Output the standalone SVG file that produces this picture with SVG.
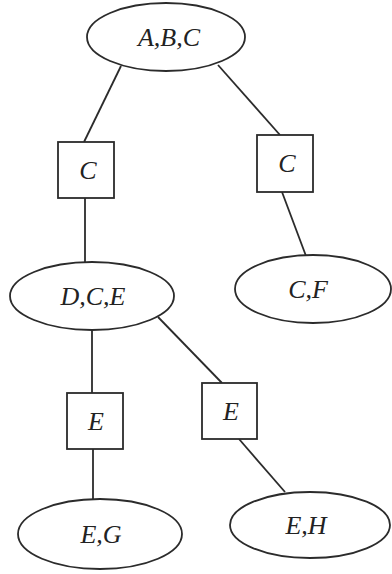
<svg xmlns="http://www.w3.org/2000/svg" width="392" height="574" viewBox="0 0 392 574">
  <style>
    .shape { fill: #ffffff; stroke: #2b2b2b; stroke-width: 1.8; }
    .edge { fill: none; stroke: #2b2b2b; stroke-width: 1.8; }
    .label { font-family: "Liberation Serif", "Times New Roman", serif; font-style: italic; font-size: 26px; fill: #222222; text-anchor: middle; }
  </style>
  <rect width="392" height="574" fill="#ffffff"/>

  <!-- connectors between cliques and separators -->
  <g id="connectors">
    <line class="edge" x1="121" y1="66" x2="84" y2="142"/>
    <line class="edge" x1="218" y1="65" x2="280" y2="135"/>
    <line class="edge" x1="85" y1="198" x2="85" y2="263"/>
    <line class="edge" x1="282" y1="192" x2="306" y2="256"/>
    <line class="edge" x1="92" y1="329" x2="92" y2="393"/>
    <line class="edge" x1="158" y1="317" x2="222" y2="383"/>
    <line class="edge" x1="93" y1="449" x2="93" y2="500"/>
    <line class="edge" x1="239" y1="439" x2="285" y2="492"/>
  </g>

  <!-- cliques (ellipses) and separators (boxes) -->
  <g id="node-abc">
    <ellipse class="shape" cx="166" cy="37" rx="79" ry="34"/>
    <text class="label" x="169" y="46">A,B,C</text>
  </g>
  <g id="sep-c-left">
    <rect class="shape" x="58" y="142" width="56" height="56"/>
    <text class="label" x="88" y="179">C</text>
  </g>
  <g id="sep-c-right">
    <rect class="shape" x="257" y="135" width="56" height="57"/>
    <text class="label" x="287" y="172">C</text>
  </g>
  <g id="node-dce">
    <ellipse class="shape" cx="92" cy="296" rx="82" ry="34"/>
    <text class="label" x="93" y="305">D,C,E</text>
  </g>
  <g id="node-cf">
    <ellipse class="shape" cx="313" cy="289" rx="78" ry="34"/>
    <text class="label" x="308" y="298">C,F</text>
  </g>
  <g id="sep-e-left">
    <rect class="shape" x="67" y="393" width="56" height="56"/>
    <text class="label" x="96" y="430">E</text>
  </g>
  <g id="sep-e-right">
    <rect class="shape" x="202" y="383" width="55" height="56"/>
    <text class="label" x="231" y="420">E</text>
  </g>
  <g id="node-eg">
    <ellipse class="shape" cx="100" cy="534" rx="82" ry="35"/>
    <text class="label" x="101" y="543">E,G</text>
  </g>
  <g id="node-eh">
    <ellipse class="shape" cx="310" cy="525" rx="80" ry="33"/>
    <text class="label" x="306" y="534">E,H</text>
  </g>
</svg>
